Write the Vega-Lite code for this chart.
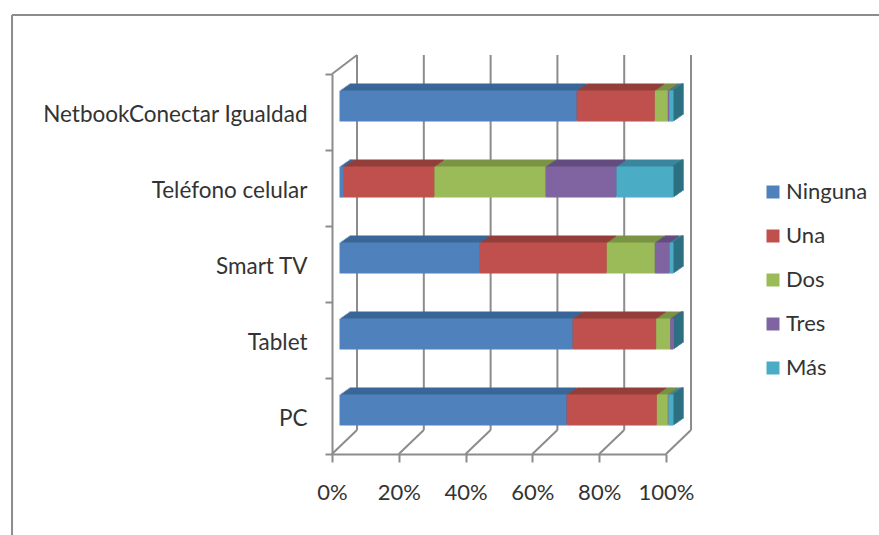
{
"$schema":"https://vega.github.io/schema/vega-lite/v6.json",
"width":334,"height":380,
"autosize":"none",
"padding":{"left":332,"top":74,"right":213,"bottom":81},
"background":"white",
"config":{"font":"Lato","view":{"stroke":null}},
"datasets":{
"bars":[
{"device":"NetbookConectar Igualdad","tipo":"Ninguna","orden":1,"valor":71.0},
{"device":"NetbookConectar Igualdad","tipo":"Una","orden":2,"valor":23.4},
{"device":"NetbookConectar Igualdad","tipo":"Dos","orden":3,"valor":3.9},
{"device":"NetbookConectar Igualdad","tipo":"Tres","orden":4,"valor":0.4},
{"device":"NetbookConectar Igualdad","tipo":"Más","orden":5,"valor":1.3},
{"device":"Teléfono celular","tipo":"Ninguna","orden":1,"valor":1.3},
{"device":"Teléfono celular","tipo":"Una","orden":2,"valor":27.1},
{"device":"Teléfono celular","tipo":"Dos","orden":3,"valor":33.3},
{"device":"Teléfono celular","tipo":"Tres","orden":4,"valor":21.2},
{"device":"Teléfono celular","tipo":"Más","orden":5,"valor":17.1},
{"device":"Smart TV","tipo":"Ninguna","orden":1,"valor":42.0},
{"device":"Smart TV","tipo":"Una","orden":2,"valor":38.0},
{"device":"Smart TV","tipo":"Dos","orden":3,"valor":14.4},
{"device":"Smart TV","tipo":"Tres","orden":4,"valor":4.4},
{"device":"Smart TV","tipo":"Más","orden":5,"valor":1.2},
{"device":"Tablet","tipo":"Ninguna","orden":1,"valor":69.8},
{"device":"Tablet","tipo":"Una","orden":2,"valor":25.0},
{"device":"Tablet","tipo":"Dos","orden":3,"valor":4.2},
{"device":"Tablet","tipo":"Tres","orden":4,"valor":0.9},
{"device":"Tablet","tipo":"Más","orden":5,"valor":0.1},
{"device":"PC","tipo":"Ninguna","orden":1,"valor":68.0},
{"device":"PC","tipo":"Una","orden":2,"valor":27.0},
{"device":"PC","tipo":"Dos","orden":3,"valor":3.3},
{"device":"PC","tipo":"Tres","orden":4,"valor":0.2},
{"device":"PC","tipo":"Más","orden":5,"valor":1.5}
],
"walls":[
{"a":7.49,"b":7.49,"c":6.32,"d":105},
{"a":27.49,"b":27.49,"c":6.32,"d":105},
{"a":47.49,"b":47.49,"c":6.32,"d":105},
{"a":67.49,"b":67.49,"c":6.32,"d":105},
{"a":87.49,"b":87.49,"c":6.32,"d":105},
{"a":107.49,"b":107.49,"c":6.32,"d":105},
{"a":0,"b":7.49,"c":0,"d":6.32},
{"a":20,"b":27.49,"c":0,"d":6.32},
{"a":40,"b":47.49,"c":0,"d":6.32},
{"a":60,"b":67.49,"c":0,"d":6.32},
{"a":80,"b":87.49,"c":0,"d":6.32},
{"a":100,"b":107.49,"c":0,"d":6.32},
{"a":0,"b":7.49,"c":100,"d":105},
{"a":-95.8,"b":163.8,"c":115.5,"d":115.5},
{"a":-95.8,"b":-95.8,"c":115.5,"d":-21.3}
]
},
"layer":[
{
"data":{"name":"walls"},
"mark":{"type":"rule","color":"#8c8c8c","strokeWidth":2},
"encoding":{
"x":{"field":"a","type":"quantitative","scale":{"domain":[0,100],"nice":false},
"axis":{"title":null,"values":[0,20,40,60,80,100],"labelExpr":"datum.value + '%'","grid":false,"domainColor":"#8c8c8c","domainWidth":2,"tickColor":"#8c8c8c","tickWidth":2,"tickSize":8,"labelFontSize":22,"labelColor":"#333333","labelPadding":20,"labelFont":"Lato","labelOverlap":false,"labelFlush":false}},
"x2":{"field":"b"},
"y":{"field":"c","type":"quantitative","scale":{"domain":[0,100],"nice":false},
"axis":{"orient":"left","title":null,"values":[0,20,40,60,80,100],"labels":false,"grid":false,"domainColor":"#8c8c8c","domainWidth":2,"tickColor":"#8c8c8c","tickWidth":2,"tickSize":7}},
"y2":{"field":"d"}
}
},
{
"data":{"name":"bars"},
"encoding":{
"x":{"field":"valor","type":"quantitative","stack":"zero"},
"y":{"field":"device","type":"nominal","sort":["NetbookConectar Igualdad","Teléfono celular","Smart TV","Tablet","PC"],"scale":{"paddingInner":0.59,"paddingOuter":0.295},"axis":null},
"order":{"field":"orden","type":"quantitative"},
"color":{"field":"tipo","type":"nominal","scale":{"domain":["Ninguna","Una","Dos","Tres","Más"],"range":["#3B6797","#933E3B","#7A9345","#634D80","#3A879D"]},"legend":null}
},
"layer":[
{"mark":{"type":"bar","xOffset":17.5,"yOffset":-13}},
{"mark":{"type":"bar","xOffset":16.1,"yOffset":-12}},
{"mark":{"type":"bar","xOffset":14.6,"yOffset":-11}},
{"mark":{"type":"bar","xOffset":13.2,"yOffset":-10}},
{"mark":{"type":"bar","xOffset":11.8,"yOffset":-9}},
{"mark":{"type":"bar","xOffset":10.4,"yOffset":-8}},
{"mark":{"type":"bar","xOffset":8.9,"yOffset":-7}}
]
},
{
"data":{"name":"bars"},
"transform":[{"filter":"datum.orden == 5"}],
"encoding":{
"x":{"datum":99.4,"type":"quantitative"},
"x2":{"datum":100},
"y":{"field":"device","type":"nominal","sort":["NetbookConectar Igualdad","Teléfono celular","Smart TV","Tablet","PC"],"scale":{"paddingInner":0.59,"paddingOuter":0.295},"axis":null}
},
"layer":[
{"mark":{"type":"rect","color":"#2D7082","xOffset":17.5,"x2Offset":17.5,"yOffset":-13}},
{"mark":{"type":"rect","color":"#2D7082","xOffset":16.1,"x2Offset":16.1,"yOffset":-12}},
{"mark":{"type":"rect","color":"#2D7082","xOffset":14.6,"x2Offset":14.6,"yOffset":-11}},
{"mark":{"type":"rect","color":"#2D7082","xOffset":13.2,"x2Offset":13.2,"yOffset":-10}},
{"mark":{"type":"rect","color":"#2D7082","xOffset":11.8,"x2Offset":11.8,"yOffset":-9}},
{"mark":{"type":"rect","color":"#2D7082","xOffset":10.4,"x2Offset":10.4,"yOffset":-8}},
{"mark":{"type":"rect","color":"#2D7082","xOffset":8.9,"x2Offset":8.9,"yOffset":-7}}
]
},
{
"data":{"name":"bars"},
"mark":{"type":"bar","xOffset":7.5,"yOffset":-6},
"encoding":{
"x":{"field":"valor","type":"quantitative","stack":"zero"},
"y":{"field":"device","type":"nominal","sort":["NetbookConectar Igualdad","Teléfono celular","Smart TV","Tablet","PC"],"scale":{"paddingInner":0.59,"paddingOuter":0.295},
"axis":{"orient":"left","title":null,"ticks":false,"domain":false,"grid":false,"labelFontSize":22.5,"labelColor":"#333333","labelPadding":25,"labelOffset":2.5,"labelFont":"Lato","labelLimit":400,"labelOverlap":false}},
"order":{"field":"orden","type":"quantitative"},
"color":{"field":"tipo","type":"nominal","scale":{"domain":["Ninguna","Una","Dos","Tres","Más"],"range":["#4F81BD","#C0504D","#9BBB59","#8064A2","#4BACC6"]},
"legend":{"title":null,"orient":"none","legendX":430,"legendY":107,"symbolType":"square","symbolSize":169,"symbolStrokeWidth":0,"labelFontSize":22,"labelColor":"#333333","labelFont":"Lato","rowPadding":22,"labelOffset":2}}
}
}
],
"resolve":{"scale":{"y":"independent","color":"independent"}}
}
